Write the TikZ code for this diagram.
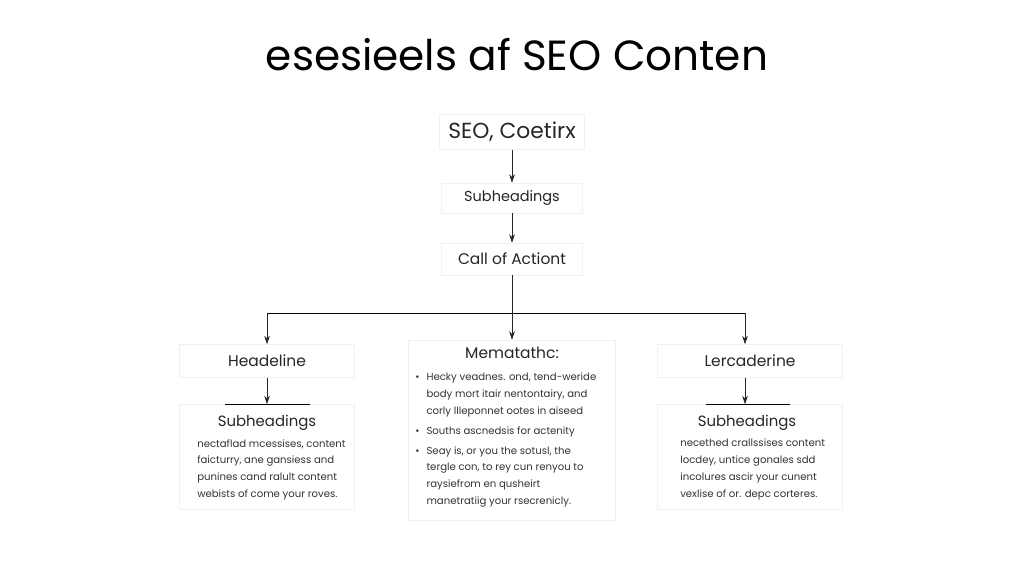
\documentclass[tikz,border=0pt]{standalone}
\usepackage{fontspec}
\setmainfont{Poppins}
\usetikzlibrary{arrows.meta}

\tikzset{
  box/.style={draw=black!6, fill=white, inner sep=0pt, text=black!85},
  wh/.style 2 args={minimum width=#1*0.7113pt, minimum height=#2*0.7113pt},
  arr/.style={-{Stealth[length=6pt,width=4pt]}, black!85},
  body/.style={anchor=north west, align=left, inner sep=0pt, text=black!80,
    font=\fontsize{7.2}{12}\selectfont},
}
\newcommand{\bul}{\makebox[8pt][l]{\textbullet}}
\newcommand{\ind}{\hspace*{8pt}}

\begin{document}
\begin{tikzpicture}[x=0.025cm, y=-0.025cm]
    \useasboundingbox[fill=white] (0,0) rectangle (1024,585);

    % Title
    \node (title) at (517,55) {\fontsize{30}{33}\selectfont esesieels af SEO Conten};

    % Top chain
    \node[box, wh={145}{35}] (seo) at (512,132) {\fontsize{15.5}{17}\selectfont SEO, Coetirx};
    \node[box, wh={141}{30}] (subh) at (512,198) {\fontsize{10.3}{12}\selectfont Subheadings};
    \node[box, wh={141}{32}] (cta) at (512,259) {\fontsize{11}{13}\selectfont Call of Actiont};

    \draw[arr] (seo) -- (subh);
    \draw[arr] (subh) -- (cta);

    % Split into three branches
    \coordinate (sl) at (267,313);
    \coordinate (sr) at (745,313);
    \draw (sl) -- (sr);

    % Left branch
    \node[box, wh={175}{33}] (head) at (267,361) {\fontsize{11}{13}\selectfont Headeline};
    \node[box, wh={175}{105}] (lbox) at (267,457) {};
    \node[text=black!85] (lsub) at (267,423) {\fontsize{10.6}{13}\selectfont Subheadings};
    \node[body] (ltext) at (197,439) {nectaflad mcessises, content\\
      faicturry, ane gansiess and\\
      punines cand ralult content\\
      webists of come your roves.};
    \coordinate (lbarl) at (225,404);
    \coordinate (lbarr) at (310,404);
    \draw (lbarl) -- (lbarr);
    \draw[arr] (sl) -- (head);
    \draw[arr] (head) -- (lbox);

    % Middle branch
    \node[box, wh={207}{180}] (meta) at (512,430) {};
    \node[text=black!85] (mtitle) at (512,353) {\fontsize{11}{13}\selectfont Mematathc:};
    \node[body] (mtext) at (415,373) {\bul Hecky veadnes. ond, tend-weride\\
      \ind body mort itair nentontairy, and\\
      \ind corly llleponnet ootes in aiseed\\[2pt]
      \bul Souths ascnedsis for actenity\\[2pt]
      \bul Seay is, or you the sotusl, the\\
      \ind tergle con, to rey cun renyou to\\
      \ind raysiefrom en qusheirt\\
      \ind manetratiig your rsecrenicly.};
    \draw[arr] (cta) -- (meta);

    % Right branch
    \node[box, wh={185}{33}] (lerc) at (750,361) {\fontsize{11}{13}\selectfont Lercaderine};
    \node[box, wh={185}{105}] (rbox) at (750,457) {};
    \node[text=black!85] (rsub) at (747,423) {\fontsize{10.6}{13}\selectfont Subheadings};
    \node[body] (rtext) at (680,439) {necethed crallssises content\\
      locdey, untice gonales sdd\\
      incolures ascir your cunent\\
      vexlise of or. depc corteres.};
    \coordinate (rbarl) at (706,404);
    \coordinate (rbarr) at (790,404);
    \draw (rbarl) -- (rbarr);
    \draw[arr] (sr) -- (sr |- lerc.north);
    \draw[arr] (lerc.south -| sr) -- (sr |- rbox.north);

\end{tikzpicture}
\end{document}
